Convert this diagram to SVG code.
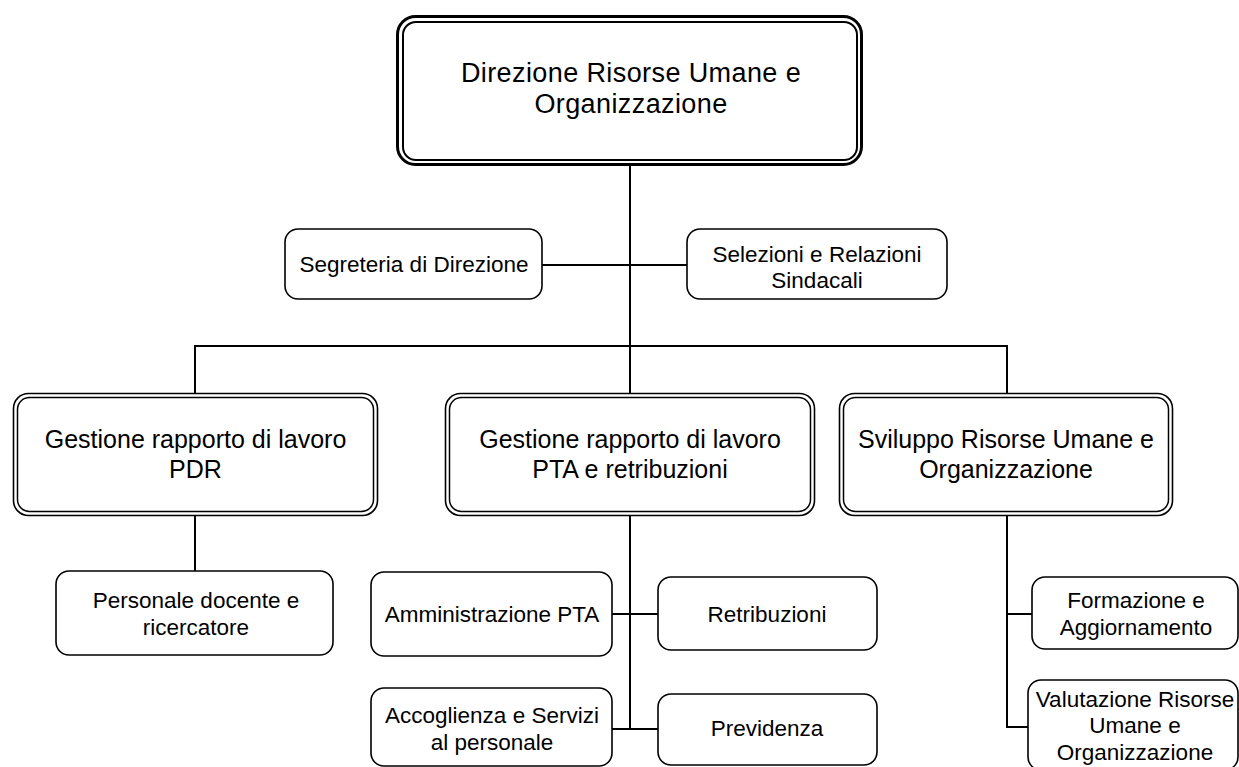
<svg xmlns="http://www.w3.org/2000/svg" width="1239" height="767" viewBox="0 0 1239 767">
<style>
.bg{fill:#ffffff}
.box{fill:#ffffff;stroke:#000;stroke-width:1.6}
.dbl{fill:none;stroke:#000;stroke-width:1.5}
.top1{fill:#ffffff;stroke:#000;stroke-width:3}
.top2{fill:none;stroke:#000;stroke-width:2}
.ln{fill:none;stroke:#000;stroke-width:2}
text{font-family:"Liberation Sans",Arial,Helvetica,sans-serif;fill:#000;text-anchor:middle}
.t1{font-size:27px}
.t2{font-size:25px}
.t3{font-size:22.5px}
</style>
<rect class="bg" x="0" y="0" width="1239" height="767"/>
<g id="connectors">
<line class="ln" x1="630" y1="164" x2="630" y2="346"/>
<line class="ln" x1="542" y1="265" x2="687" y2="265"/>
<polyline class="ln" points="195,393 195,346 1007,346 1007,393"/>
<line class="ln" x1="630" y1="346" x2="630" y2="393"/>
<line class="ln" x1="195" y1="516" x2="195" y2="571"/>
<line class="ln" x1="630" y1="516" x2="630" y2="729"/>
<line class="ln" x1="612" y1="614" x2="658" y2="614"/>
<line class="ln" x1="612" y1="729" x2="658" y2="729"/>
<polyline class="ln" points="1007,516 1007,727 1028,727"/>
<line class="ln" x1="1007" y1="614" x2="1032" y2="614"/>
</g>
<g id="n-direzione">
<rect class="top1" x="397.5" y="16.5" width="464" height="148" rx="18"/>
<rect class="top2" x="403" y="22" width="454" height="138" rx="13"/>
<text class="t1" x="631" y="82" letter-spacing="0.4">Direzione Risorse Umane e</text>
<text class="t1" x="631" y="113" letter-spacing="0.4">Organizzazione</text>
</g>
<g id="n-segreteria">
<rect class="box" x="285" y="229" width="257" height="70" rx="13"/>
<text class="t3" x="414" y="272">Segreteria di Direzione</text>
</g>
<g id="n-selezioni">
<rect class="box" x="687" y="229" width="260" height="70" rx="13"/>
<text class="t3" x="817" y="262">Selezioni e Relazioni</text>
<text class="t3" x="817" y="288">Sindacali</text>
</g>
<g id="n-pdr">
<rect class="box" x="13.5" y="393.5" width="364" height="122" rx="15"/>
<rect class="dbl" x="17.5" y="397.5" width="356" height="114" rx="12"/>
<text class="t2" x="195.5" y="448">Gestione rapporto di lavoro</text>
<text class="t2" x="195.5" y="478">PDR</text>
</g>
<g id="n-pta">
<rect class="box" x="445.5" y="393.5" width="369" height="122" rx="15"/>
<rect class="dbl" x="449.5" y="397.5" width="361" height="114" rx="12"/>
<text class="t2" x="630" y="448">Gestione rapporto di lavoro</text>
<text class="t2" x="630" y="478">PTA e retribuzioni</text>
</g>
<g id="n-sviluppo">
<rect class="box" x="839.5" y="393.5" width="333" height="122" rx="15"/>
<rect class="dbl" x="843.5" y="397.5" width="325" height="114" rx="12"/>
<text class="t2" x="1006" y="448">Sviluppo Risorse Umane e</text>
<text class="t2" x="1006" y="478">Organizzazione</text>
</g>
<g id="n-personale">
<rect class="box" x="56" y="571" width="277" height="84" rx="13"/>
<text class="t3" x="196" y="608">Personale docente e</text>
<text class="t3" x="196" y="635">ricercatore</text>
</g>
<g id="n-amministrazione">
<rect class="box" x="371" y="572" width="241" height="84" rx="13"/>
<text class="t3" x="492" y="622">Amministrazione PTA</text>
</g>
<g id="n-retribuzioni">
<rect class="box" x="658" y="577" width="219" height="73" rx="13"/>
<text class="t3" x="767" y="622">Retribuzioni</text>
</g>
<g id="n-accoglienza">
<rect class="box" x="371" y="688" width="241" height="78" rx="13"/>
<text class="t3" x="492" y="723">Accoglienza e Servizi</text>
<text class="t3" x="492" y="750">al personale</text>
</g>
<g id="n-previdenza">
<rect class="box" x="658" y="694" width="219" height="71" rx="13"/>
<text class="t3" x="767" y="736">Previdenza</text>
</g>
<g id="n-formazione">
<rect class="box" x="1032" y="577" width="206" height="72" rx="13"/>
<text class="t3" x="1136" y="608">Formazione e</text>
<text class="t3" x="1136" y="635">Aggiornamento</text>
</g>
<g id="n-valutazione">
<rect class="box" x="1028" y="680" width="210" height="90" rx="13"/>
<text class="t3" x="1135" y="707">Valutazione Risorse</text>
<text class="t3" x="1135" y="733">Umane e</text>
<text class="t3" x="1135" y="760">Organizzazione</text>
</g>
</svg>
